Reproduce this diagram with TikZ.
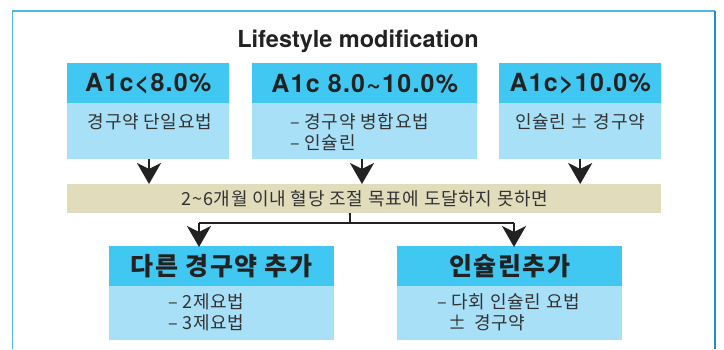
\documentclass[tikz,border=0pt]{standalone}
\usepackage{fontspec}
\setmainfont{TeX Gyre Heros}
\newfontfamily\kr{Noto Sans CJK KR}
\usetikzlibrary{arrows.meta}
\definecolor{hdrc}{HTML}{40C8F2}
\definecolor{bdyc}{HTML}{A8E0F8}
\definecolor{bandc}{HTML}{E0DCBC}
\definecolor{framec}{HTML}{4DB8E8}
\definecolor{framer}{HTML}{1E8CD0}
\definecolor{txtc}{HTML}{333333}
\definecolor{darkc}{HTML}{222222}
\tikzset{
  hdrbox/.style={fill=hdrc, draw=none, anchor=north west, minimum height=40pt, inner sep=0pt, text=darkc},
  bdybox/.style={fill=bdyc, draw=none, anchor=north west, inner sep=0pt},
  a1c/.style={font=\fontsize{25}{29}\selectfont\bfseries\addfontfeature{LetterSpace=5}},
  krhdr/.style={font=\kr\fontsize{25}{29}\selectfont\bfseries\addfontfeature{LetterSpace=6}},
  bodytxt/.style={font=\kr\fontsize{18}{21}\selectfont\addfontfeature{LetterSpace=4}, text=txtc, inner sep=0pt, align=left},
  conn/.style={draw=darkc, line width=2.5pt},
  arr/.style={conn, -{Stealth[length=21pt,width=24pt,inset=6pt]}},
}
\begin{document}
\begin{tikzpicture}[x=1pt,y=-1pt]
\useasboundingbox (0,0) rectangle (724,349);
\fill[white] (0,0) rectangle (724,349);
\draw[framec, line width=1.5pt] (12.5,349) -- (12.5,11) -- (715,11);
\draw[framer, line width=1.5pt] (715,11) -- (715,349);

\node[font=\fontsize{23.5}{27}\selectfont\bfseries, text=darkc] (title) at (358,41) {Lifestyle modification};

% top boxes
\node[hdrbox, minimum width=162pt, a1c] (h1) at (67,63) {A1c<8.0\%};
\node[bdybox, minimum width=162pt, minimum height=56pt] (b1) at (67,103) {};
\node[bodytxt] (t1) at (150,122) {경구약 단일요법};

\node[hdrbox, minimum width=225pt, a1c] (h2) at (252,63) {A1c 8.0\textasciitilde10.0\%};
\node[bdybox, minimum width=225pt, minimum height=56pt] (b2) at (252,103) {};
\node[bodytxt, anchor=west] (t2) at (290,132.5) {– 경구약 병합요법\\– 인슐린};

\node[hdrbox, minimum width=162pt, a1c] (h3) at (499,63) {A1c>10.0\%};
\node[bdybox, minimum width=162pt, minimum height=56pt] (b3) at (499,103) {};
\node[bodytxt] (t3) at (580,122) {인슐린 ± 경구약};

% band
\node[fill=bandc, anchor=north west, minimum width=594pt, minimum height=29pt, inner sep=0pt] (band) at (67,184) {};
\node[font=\kr\fontsize{18}{20}\selectfont\addfontfeature{LetterSpace=4}, text=txtc] (bandt) at (365,199) {2\textasciitilde6개월 이내 혈당 조절 목표에 도달하지 못하면};

% bottom boxes
\node[hdrbox, minimum width=225pt, krhdr] (h4) at (109,246) {다른 경구약 추가};
\node[bdybox, minimum width=225pt, minimum height=54pt] (b4) at (109,286) {};
\node[bodytxt, anchor=west] (t4) at (168,312.5) {– 2제요법\\– 3제요법};

\node[hdrbox, minimum width=225pt, krhdr] (h5) at (397,246) {인슐린추가};
\node[bdybox, minimum width=225pt, minimum height=54pt] (b5) at (397,286) {};
\node[bodytxt, anchor=west] (t5) at (437,312.5) {– 다회 인슐린 요법\\\hspace*{11pt}±\hspace{8pt}경구약};

% arrows down
\draw[arr] (b1.south -| 149,0) -- (band.north -| 149,0);
\draw[arr] (b2.south -| 362,0) -- (band.north -| 362,0);
\draw[arr] (b3.south) -- (band.north -| b3.south);

\coordinate (split) at (350,223);
\coordinate (tip4) at (199,247);
\coordinate (tip5) at (514,247);
\draw[conn] (band.south -| split) -- (split);
\draw[conn] (tip4 |- split) -- (tip5 |- split);
\draw[arr] (tip4 |- split) -- (tip4);
\draw[arr] (tip5 |- split) -- (tip5);
\end{tikzpicture}
\end{document}
